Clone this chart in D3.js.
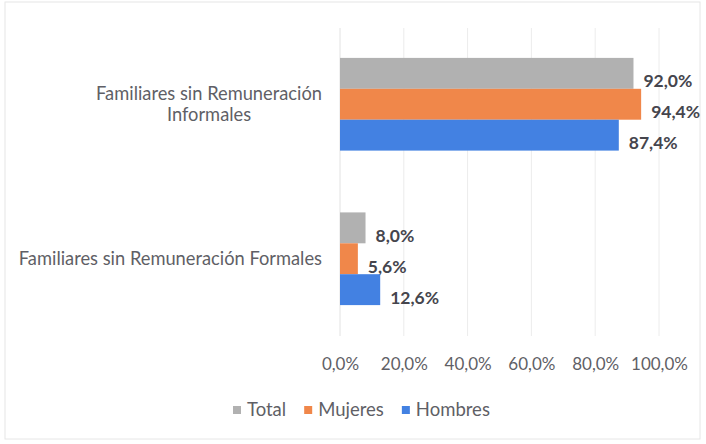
<!DOCTYPE html>
<html>
<head>
<meta charset="utf-8">
<script src="https://cdn.jsdelivr.net/npm/d3@7"></script>
<style>
  body { margin: 0; background: #fff; }
  svg { font-family: Lato, "Open Sans", sans-serif; }
</style>
</head>
<body>
<svg width="706" height="444"></svg>
<script>
// data
var categories = ['Familiares sin Remuneración Informales', 'Familiares sin Remuneración Formales'];
var categoryLines = [['Familiares sin Remuneración', 'Informales'], ['Familiares sin Remuneración Formales']];
var seriesNames = ['Total', 'Mujeres', 'Hombres'];
var seriesColors = ['#b1b1b1', '#f0874a', '#4381e2'];
var totalValues = [92.0, 8.0];
var mujeresValues = [94.4, 5.6];
var hombresValues = [87.4, 12.6];
var tickValues = [0, 20, 40, 60, 80, 100];

var seriesValues = [totalValues, mujeresValues, hombresValues];
var fmt = function (v) { return d3.format('.1f')(v).replace('.', ',') + '%'; };

var svg = d3.select('svg');

// chart frame
svg.append('rect')
    .attr('x', 5).attr('y', 2)
    .attr('width', 695).attr('height', 437)
    .attr('fill', 'none')
    .attr('stroke', '#e6e6e6');

var x = d3.scaleLinear().domain([0, 100]).range([340, 659]);
var y = d3.scaleBand().domain(categories).range([27, 336]).paddingInner(0.4).paddingOuter(0.2);
var ySub = d3.scaleBand().domain(seriesNames).range([0, y.bandwidth()]);

// gridlines
svg.append('g')
    .selectAll('line')
    .data(tickValues.slice(1))
    .enter().append('line')
    .attr('x1', d => x(d)).attr('x2', d => x(d))
    .attr('y1', 28).attr('y2', 336)
    .attr('stroke', '#ececec');

// axis tick labels
var xAxis = svg.append('g')
    .attr('transform', 'translate(0,355)')
    .call(d3.axisBottom(x).tickValues(tickValues).tickSize(0).tickFormat(fmt));
xAxis.select('.domain').remove();
xAxis.selectAll('text')
    .attr('font-family', 'Lato, "Open Sans", sans-serif')
    .attr('font-size', 17)
    .attr('fill', '#5f5f66');

// vertical axis line
svg.append('line')
    .attr('x1', x(0)).attr('x2', x(0))
    .attr('y1', 28).attr('y2', 336)
    .attr('stroke', '#e2e2e2');

// bars
var groups = svg.selectAll('g.cat')
    .data(categories)
    .enter().append('g')
    .attr('class', 'cat')
    .attr('transform', d => 'translate(0,' + y(d) + ')');

groups.each(function (cat, ci) {
    var g = d3.select(this);
    seriesNames.forEach(function (s, si) {
        var v = seriesValues[si][ci];
        g.append('rect')
            .attr('x', x(0))
            .attr('y', ySub(s))
            .attr('width', x(v) - x(0))
            .attr('height', ySub.bandwidth())
            .attr('fill', seriesColors[si]);
        g.append('text')
            .attr('x', x(v) + 10)
            .attr('y', ySub(s) + ySub.bandwidth() / 2 + 8)
            .attr('dy', '0.35em')
            .attr('font-size', 17.5)
            .attr('font-weight', 'bold')
            .attr('fill', '#45454d')
            .text(fmt(v));
    });
});

// category labels
categories.forEach(function (cat, ci) {
    var lines = categoryLines[ci];
    var cy = y(cat) + y.bandwidth() / 2;
    var t = svg.append('text')
        .attr('font-size', 18.3)
        .attr('fill', '#5f5f66')
        .attr('text-anchor', 'middle');
    var lh = 21;
    var w = 0;
    lines.forEach(function (l, li) {
        t.append('tspan')
            .attr('y', cy + (li - (lines.length - 1) / 2) * lh)
            .attr('dy', '0.35em')
            .text(l);
    });
    // right-align the block at x=322, centre lines inside it
    t.selectAll('tspan').each(function () { w = Math.max(w, this.getComputedTextLength()); });
    t.selectAll('tspan').attr('x', 322 - w / 2);
});

// legend
var legend = svg.append('g').attr('transform', 'translate(0,410)');
var lx = 233;
seriesNames.forEach(function (s, si) {
    legend.append('rect')
        .attr('x', lx).attr('y', -4)
        .attr('width', 8).attr('height', 8)
        .attr('fill', seriesColors[si]);
    var t = legend.append('text')
        .attr('x', lx + 14)
        .attr('dy', '0.35em')
        .attr('font-size', 18.5)
        .attr('fill', '#5f5f66')
        .text(s);
    lx += 14 + t.node().getComputedTextLength() + 18;
});
</script>
</body>
</html>
